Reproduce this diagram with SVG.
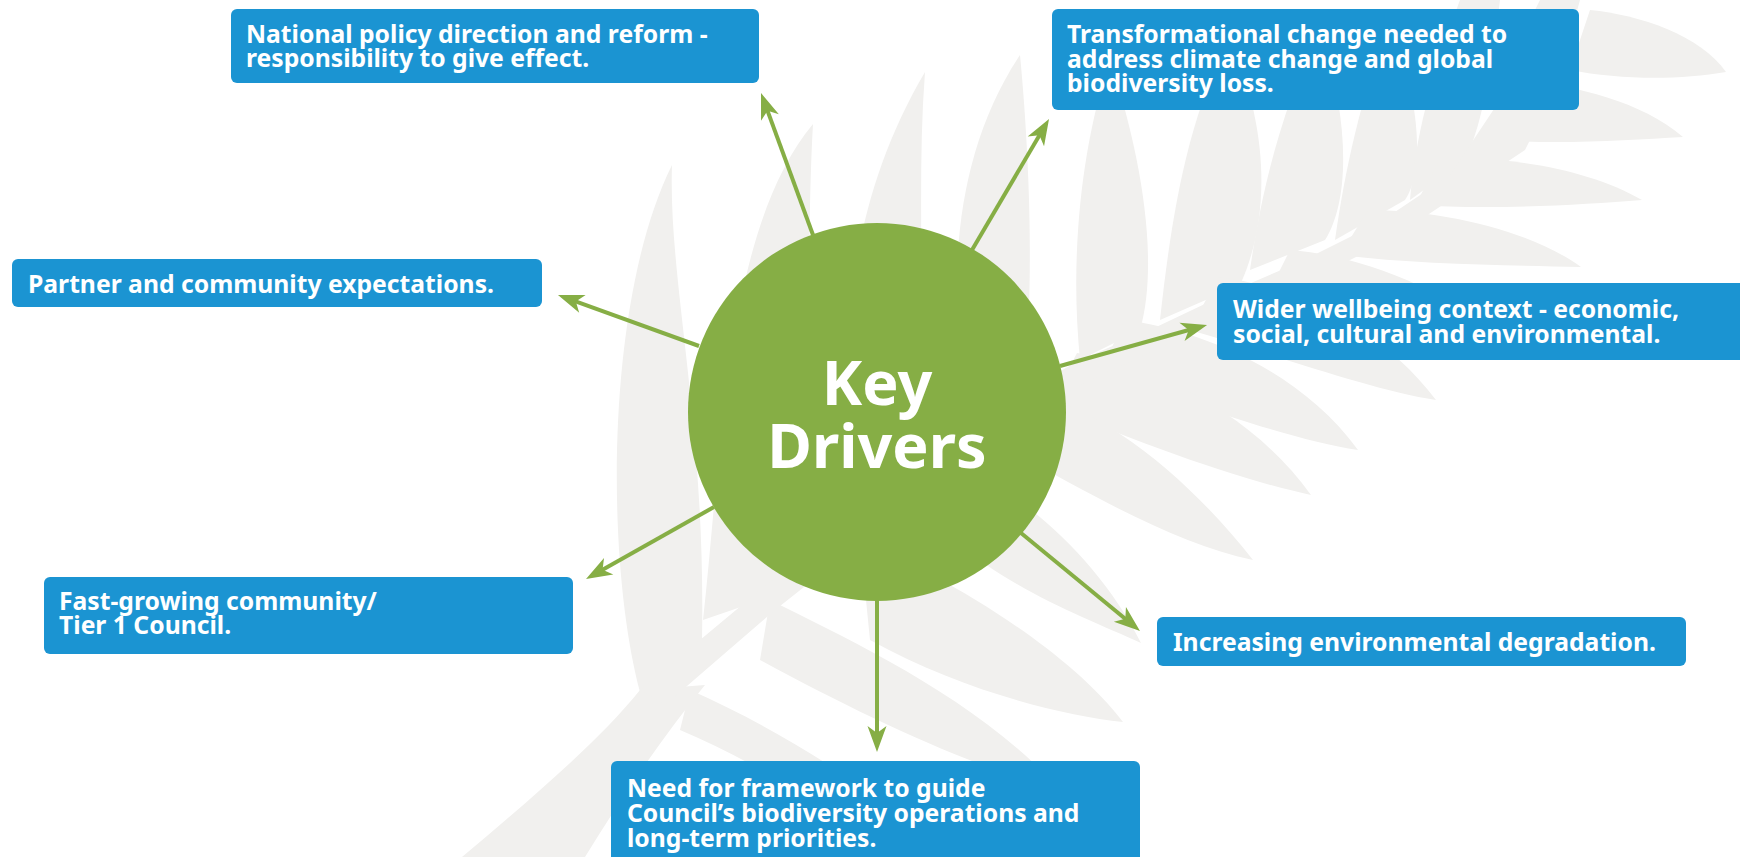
<svg xmlns="http://www.w3.org/2000/svg" width="1740" height="857" viewBox="0 0 1740 857">
  <defs>
    <style>
      .fern { fill: #f1f0ee; }
      .box { fill: #1b94d2; }
      .lbl { font-family: "Noto Sans", "Liberation Sans", sans-serif; font-weight: 700; font-size: 24.7px; fill: #ffffff; }
      .hub { fill: #86ae45; }
      .hubtxt { font-family: "Noto Sans", "Liberation Sans", sans-serif; font-weight: 700; font-size: 61px; fill: #ffffff; text-anchor: middle; }
      .link { stroke: #86ae45; stroke-width: 4; fill: none; marker-end: url(#head); }
    </style>
    <marker id="head" markerUnits="userSpaceOnUse" orient="auto" viewBox="-20 -20 40 40" refX="0" refY="0" markerWidth="40" markerHeight="40">
      <path d="M18,0 L-8,-9.5 L-1,0 L-8,9.5 Z" fill="#86ae45"/>
    </marker>
  </defs>

  <rect width="1740" height="857" fill="#ffffff"/>

  <!-- silver fern backdrop: stem, upward pinnae, drooping pinnae, rachis -->
  <g id="fern" class="fern">
    <path d="M462,857 C530,800 600,740 640,690 L705,685 C660,740 620,800 585,857 Z"/>
    <path d="M640,692 C605,560 605,300 672,165 C668,280 706,420 702,640 Z"/>
    <path d="M703,620 C722,450 725,230 813,124 C805,260 815,450 790,590 Z"/>
    <path d="M850,480 C840,330 850,200 925,72 C915,200 930,330 910,470 Z"/>
    <path d="M972,420 C945,300 950,160 1020,55 C1030,160 1035,300 1022,400 Z"/>
    <path d="M1080,360 C1070,260 1080,150 1110,60 C1140,150 1160,260 1140,330 Z"/>
    <path d="M1160,320 C1170,230 1185,120 1230,40 C1270,130 1270,220 1240,285 Z"/>
    <path d="M1250,270 C1260,200 1280,110 1320,30 C1350,120 1350,200 1325,240 Z"/>
    <path d="M1335,240 C1345,170 1360,100 1390,20 C1420,100 1425,170 1405,200 Z"/>
    <path d="M1410,200 C1415,140 1430,80 1460,0 L1500,0 C1490,80 1480,130 1465,160 Z"/>
    <path d="M1590,10 C1640,15 1700,35 1726,72 C1680,80 1620,80 1570,70 Z"/>
    <path d="M1518,80 C1570,85 1640,100 1683,137 C1630,140 1560,145 1495,140 Z"/>
    <path d="M1440,160 C1510,155 1590,170 1642,200 C1580,205 1490,210 1415,205 Z"/>
    <path d="M1368,210 C1440,210 1530,230 1581,267 C1510,265 1420,265 1340,255 Z"/>
    <path d="M1290,250 C1360,255 1450,290 1510,345 C1440,335 1340,310 1265,300 Z"/>
    <path d="M1218,277 C1290,285 1380,325 1436,400 C1370,390 1260,350 1190,330 Z"/>
    <path d="M1125,320 C1200,330 1300,370 1358,450 C1290,440 1180,400 1100,372 Z"/>
    <path d="M1077,353 C1150,365 1250,410 1311,495 C1240,480 1130,440 1050,405 Z"/>
    <path d="M1000,385 C1100,400 1190,480 1253,560 C1180,545 1100,500 1010,450 Z"/>
    <path d="M950,460 C1020,490 1100,560 1141,643 C1090,620 1010,590 955,540 Z"/>
    <path d="M860,540 C930,570 1060,640 1123,722 C1060,715 960,690 870,640 Z"/>
    <path d="M770,600 C850,640 980,700 1060,790 C980,770 870,720 760,660 Z"/>
    <path d="M690,690 C780,730 880,790 940,857 L880,857 C820,800 750,760 680,730 Z"/>
    <path d="M640,690 L760,590 L880,495 L1000,405 L1080,360 L1150,330 L1230,292 L1300,262 L1380,222 L1450,175 L1500,100 L1530,20 L1540,0 L1580,0 L1555,90 L1525,150 L1465,190 L1390,240 L1310,280 L1240,310 L1160,348 L1090,380 L1010,425 L895,515 L775,610 L665,705 Z"/>
  </g>

  <!-- connectors from the hub to each driver -->
  <g id="connectors">
    <line class="link" x1="813" y1="235" x2="767.2" y2="109.9"/>
    <line class="link" x1="972" y1="250" x2="1039.9" y2="134.5"/>
    <line class="link" x1="699" y1="346" x2="574.9" y2="301.1"/>
    <line class="link" x1="1060" y1="366" x2="1189.7" y2="329.8"/>
    <line class="link" x1="714" y1="507" x2="601.7" y2="570.2"/>
    <line class="link" x1="1021" y1="533" x2="1126.1" y2="619.5"/>
    <line class="link" x1="877" y1="599" x2="877" y2="734"/>
  </g>

  <g id="hub">
    <circle class="hub" cx="877" cy="412" r="189"/>
    <text class="hubtxt" x="877" y="405">Key<tspan x="877" dy="63">Drivers</tspan></text>
  </g>

  <g id="node-national-policy">
    <rect class="box" x="231" y="9" width="528" height="74" rx="6"/>
    <text class="lbl" x="246" y="43">National policy direction and reform -<tspan x="246" dy="24">responsibility to give effect.</tspan></text>
  </g>

  <g id="node-transformational-change">
    <rect class="box" x="1052" y="9" width="527" height="101" rx="6"/>
    <text class="lbl" x="1067" y="43">Transformational change needed to<tspan x="1067" dy="24.5">address climate change and global</tspan><tspan x="1067" dy="24.5">biodiversity loss.</tspan></text>
  </g>

  <g id="node-partner-expectations">
    <rect class="box" x="12" y="259" width="530" height="48" rx="6"/>
    <text class="lbl" x="28" y="293">Partner and community expectations.</text>
  </g>

  <g id="node-wellbeing-context">
    <rect class="box" x="1217" y="283" width="540" height="77" rx="6"/>
    <text class="lbl" x="1233" y="318">Wider wellbeing context - economic,<tspan x="1233" dy="25">social, cultural and environmental.</tspan></text>
  </g>

  <g id="node-fast-growing">
    <rect class="box" x="44" y="577" width="529" height="77" rx="6"/>
    <text class="lbl" x="59" y="610">Fast-growing community/<tspan x="59" dy="24">Tier 1 Council.</tspan></text>
  </g>

  <g id="node-environmental-degradation">
    <rect class="box" x="1157" y="617" width="529" height="49" rx="6"/>
    <text class="lbl" x="1173" y="651">Increasing environmental degradation.</text>
  </g>

  <g id="node-framework">
    <rect class="box" x="611" y="761" width="529" height="110" rx="6"/>
    <text class="lbl" x="627" y="797">Need for framework to guide<tspan x="627" dy="25">Council’s biodiversity operations and</tspan><tspan x="627" dy="25">long-term priorities.</tspan></text>
  </g>
</svg>
